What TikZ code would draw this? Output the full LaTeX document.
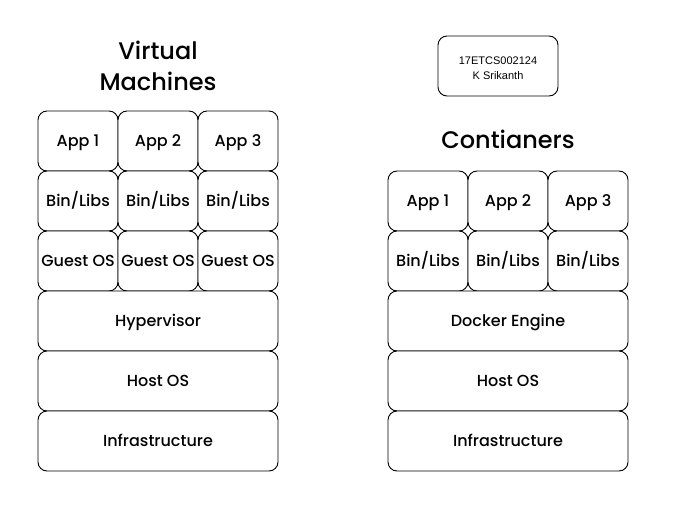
\documentclass[tikz,border=0pt]{standalone}
\usepackage{fontspec}
\setmainfont{Poppins Medium}
\newfontfamily\arialfont{Liberation Sans}
\begin{document}
\begin{tikzpicture}[x=1pt,y=-1pt,
  blk/.style={draw=black,line width=0.9pt,rounded corners=9pt,fill=white,inner sep=0pt,text height=11.4pt,text depth=0pt,font=\fontsize{16}{19}\selectfont},
  ttl/.style={font=\fontsize{24}{31}\selectfont,align=center,inner sep=0pt}]
\useasboundingbox (0,0) rectangle (682,519);
% Left stack: Virtual Machines
\node[ttl] (vmtitle) at (158,66) {Virtual\\Machines};
\foreach \i/\t in {1/App 1,2/App 2,3/App 3}{
  \node[blk,minimum width=80pt,minimum height=60pt] (lapp\i) at (38+80*\i-40,141) {\t};
  \node[blk,minimum width=80pt,minimum height=60pt] (lbin\i) at (38+80*\i-40,201) {Bin/Libs};
  \node[blk,minimum width=80pt,minimum height=60pt] (lgos\i) at (38+80*\i-40,261) {Guest OS};
}
\node[blk,minimum width=240pt,minimum height=60pt] (hyp) at (158,321) {Hypervisor};
\node[blk,minimum width=240pt,minimum height=60pt] (lhost) at (158,381) {Host OS};
\node[blk,minimum width=240pt,minimum height=60pt] (linfra) at (158,441) {Infrastructure};
% Right stack: Containers
\node[draw=black,line width=0.9pt,rounded corners=9pt,minimum width=120pt,minimum height=60pt,inner sep=0pt,
  label={[align=center,inner sep=0pt,yshift=-2pt,font=\arialfont\fontsize{11}{14.5}\selectfont]center:17ETCS002124\\K Srikanth}] (label) at (498,66) {};
\node[ttl] (cttitle) at (508,139) {Contianers};
\foreach \i/\t in {1/App 1,2/App 2,3/App 3}{
  \node[blk,minimum width=80pt,minimum height=60pt] (rapp\i) at (388+80*\i-40,201) {\t};
  \node[blk,minimum width=80pt,minimum height=60pt] (rbin\i) at (388+80*\i-40,261) {Bin/Libs};
}
\node[blk,minimum width=240pt,minimum height=60pt] (docker) at (508,321) {Docker Engine};
\node[blk,minimum width=240pt,minimum height=60pt] (rhost) at (508,381) {Host OS};
\node[blk,minimum width=240pt,minimum height=60pt] (rinfra) at (508,441) {Infrastructure};
\end{tikzpicture}
\end{document}
